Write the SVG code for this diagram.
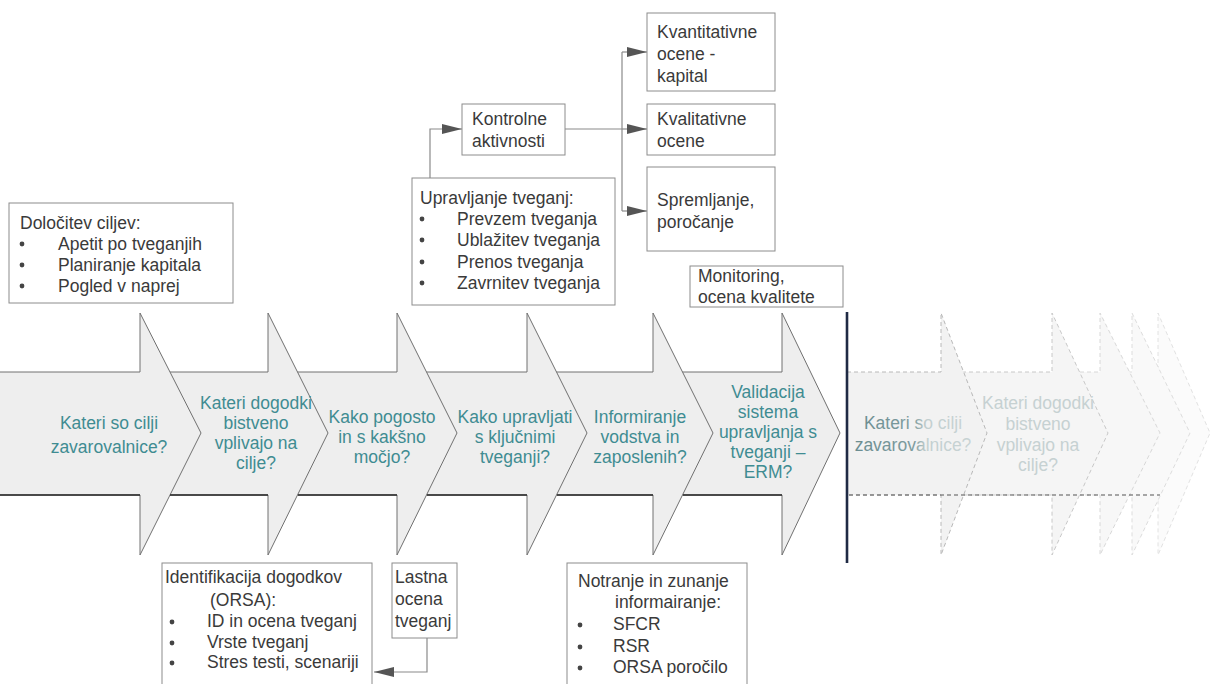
<svg xmlns="http://www.w3.org/2000/svg" width="1210" height="684" viewBox="0 0 1210 684">
<style>
.box{fill:#ffffff;stroke:#8c8c8c;stroke-width:1}
.bt{font-family:"Liberation Sans",Arial,sans-serif;font-size:17.5px;fill:#3a3a3a}
.ct{font-family:"Liberation Sans",Arial,sans-serif;font-size:17.5px;fill:#3f8c92;text-anchor:middle}
.chev{fill:#eeeeee;stroke:#707070;stroke-width:1}
.dark{stroke:#262626;stroke-width:1.6}
.conn{fill:none;stroke:#8a8a8a;stroke-width:1.2}
.bul{fill:#444}
</style>
<defs>
<marker id="ah" viewBox="0 0 20 10" refX="20" refY="5" markerWidth="20" markerHeight="10" markerUnits="userSpaceOnUse" orient="auto">
<path d="M0,0 L20,5 L0,10 z" fill="#555555"/>
</marker>
<linearGradient id="fadeTxt" gradientUnits="userSpaceOnUse" x1="857" y1="0" x2="972" y2="0">
<stop offset="0" stop-color="#6b8d91"/>
<stop offset="0.5" stop-color="#7e9c9f"/>
<stop offset="0.6" stop-color="#c2cfd0"/>
<stop offset="1" stop-color="#c8d3d4"/>
</linearGradient>
</defs>

<!-- faded chevrons (right of divider) -->
<g id="faded">
<polygon points="1132,372 1158,372 1158,313 1210,433 1158,555 1158,495 1132,495" fill="#fbfbfb" stroke="#e2e2e2" stroke-dasharray="4 3"/>
<polygon points="1100,372 1132,372 1132,313 1190,433 1132,555 1132,495 1100,495" fill="#f9f9f9" stroke="#dddddd" stroke-dasharray="4 3"/>
<polygon points="1052,372 1100,372 1100,313 1160,433 1100,555 1100,495 1052,495" fill="#f7f7f7" stroke="#d8d8d8" stroke-dasharray="4 3"/>
<polygon points="941,372 1052,372 1052,313 1108,433 1052,555 1052,495 941,495" fill="#f5f5f5" stroke="#c8c8c8" stroke-dasharray="4 3"/>
<polygon points="847,372 941,372 941,313 987,433 941,555 941,495 847,495" fill="#f2f2f2" stroke="#b8b8b8" stroke-dasharray="4 3"/>
<line x1="849" y1="495" x2="1160" y2="495" stroke="#555" stroke-width="1.2" stroke-dasharray="4 3"/>
<text class="ct" x="913" y="429" style="fill:url(#fadeTxt)">Kateri so cilji</text>
<text class="ct" x="913" y="451" style="fill:url(#fadeTxt)">zavarovalnice?</text>
<text class="ct" x="1038" y="409" style="fill:#c6d1d2">Kateri dogodki</text>
<text class="ct" x="1038" y="430" style="fill:#c6d1d2">bistveno</text>
<text class="ct" x="1038" y="451" style="fill:#c6d1d2">vplivajo na</text>
<text class="ct" x="1038" y="471" style="fill:#c6d1d2">cilje?</text>
</g>

<!-- main chevrons, drawn right to left -->
<g id="chev6">
<polygon class="chev" points="653,372 782,372 782,313 840,433 782,555 782,495 653,495"/>
<text class="ct" x="768" y="398">Validacija</text>
<text class="ct" x="768" y="418">sistema</text>
<text class="ct" x="768" y="438">upravljanja s</text>
<text class="ct" x="768" y="458">tveganji –</text>
<text class="ct" x="768" y="478">ERM?</text>
</g>
<g id="chev5">
<polygon class="chev" points="527,372 653,372 653,313 713,433 653,555 653,495 527,495"/>
<text class="ct" x="640" y="423">Informiranje</text>
<text class="ct" x="640" y="443">vodstva in</text>
<text class="ct" x="640" y="463">zaposlenih?</text>
</g>
<g id="chev4">
<polygon class="chev" points="397,372 527,372 527,313 587,433 527,555 527,495 397,495"/>
<text class="ct" x="515" y="423">Kako upravljati</text>
<text class="ct" x="515" y="443">s ključnimi</text>
<text class="ct" x="515" y="463">tveganji?</text>
</g>
<g id="chev3">
<polygon class="chev" points="268,372 397,372 397,313 457,433 397,555 397,495 268,495"/>
<text class="ct" x="382" y="423">Kako pogosto</text>
<text class="ct" x="382" y="443">in s kakšno</text>
<text class="ct" x="382" y="463">močjo?</text>
</g>
<g id="chev2">
<polygon class="chev" points="140,372 268,372 268,313 328,433 268,555 268,495 140,495"/>
<text class="ct" x="256" y="409">Kateri dogodki</text>
<text class="ct" x="256" y="429">bistveno</text>
<text class="ct" x="256" y="449">vplivajo na</text>
<text class="ct" x="256" y="469">cilje?</text>
</g>
<g id="chev1">
<polygon class="chev" points="-2,372 140,372 140,313 201,433 140,555 140,495 -2,495"/>
<text class="ct" x="109" y="429">Kateri so cilji</text>
<text class="ct" x="109" y="453">zavarovalnice?</text>
</g>
<g id="band-shadow">
<line class="dark" x1="0" y1="495" x2="140" y2="495"/>
<line class="dark" x1="170" y1="495" x2="268" y2="495"/>
<line class="dark" x1="298" y1="495" x2="397" y2="495"/>
<line class="dark" x1="427" y1="495" x2="527" y2="495"/>
<line class="dark" x1="557" y1="495" x2="653" y2="495"/>
<line class="dark" x1="683" y1="495" x2="782" y2="495"/>
</g>

<line id="divider" x1="847" y1="312" x2="847" y2="563" stroke="#1f2a44" stroke-width="2.6"/>

<g id="connectors">
<path class="conn" d="M430,178 V129 H462" marker-end="url(#ah)"/>
<path class="conn" d="M565,129 H622"/>
<path class="conn" d="M622,52 V211"/>
<path class="conn" d="M622,52 H647" marker-end="url(#ah)"/>
<path class="conn" d="M622,129 H647" marker-end="url(#ah)"/>
<path class="conn" d="M622,211 H647" marker-end="url(#ah)"/>
<path class="conn" d="M427,638 V672 H374" marker-end="url(#ah)"/>
</g>

<g id="goals">
<rect class="box" x="9" y="203" width="224" height="100"/>
<text class="bt" x="20" y="229">Določitev ciljev:</text>
<circle class="bul" cx="22" cy="244" r="2.4"/>
<text class="bt" x="58" y="250">Apetit po tveganjih</text>
<circle class="bul" cx="22" cy="265" r="2.4"/>
<text class="bt" x="58" y="271">Planiranje kapitala</text>
<circle class="bul" cx="22" cy="286" r="2.4"/>
<text class="bt" x="58" y="292">Pogled v naprej</text>
</g>

<g id="upravljanje">
<rect class="box" x="412" y="178" width="203" height="127"/>
<text class="bt" x="420" y="204">Upravljanje tveganj:</text>
<circle class="bul" cx="422" cy="219" r="2.4"/>
<text class="bt" x="457" y="225">Prevzem tveganja</text>
<circle class="bul" cx="422" cy="240" r="2.4"/>
<text class="bt" x="457" y="246">Ublažitev tveganja</text>
<circle class="bul" cx="422" cy="262" r="2.4"/>
<text class="bt" x="457" y="268">Prenos tveganja</text>
<circle class="bul" cx="422" cy="283" r="2.4"/>
<text class="bt" x="457" y="289">Zavrnitev tveganja</text>
</g>

<g id="kontrolne">
<rect class="box" x="462" y="104" width="103" height="51"/>
<text class="bt" x="472" y="125">Kontrolne</text>
<text class="bt" x="472" y="147">aktivnosti</text>
</g>

<g id="kvantitativne">
<rect class="box" x="647" y="13" width="128" height="78"/>
<text class="bt" x="657" y="38">Kvantitativne</text>
<text class="bt" x="657" y="60">ocene -</text>
<text class="bt" x="657" y="82">kapital</text>
</g>

<g id="kvalitativne">
<rect class="box" x="647" y="104" width="128" height="51"/>
<text class="bt" x="657" y="125">Kvalitativne</text>
<text class="bt" x="657" y="147">ocene</text>
</g>

<g id="spremljanje">
<rect class="box" x="647" y="167" width="128" height="84"/>
<text class="bt" x="657" y="206">Spremljanje,</text>
<text class="bt" x="657" y="228">poročanje</text>
</g>

<g id="monitoring">
<rect class="box" x="690" y="266" width="153" height="41"/>
<text class="bt" x="698" y="282">Monitoring,</text>
<text class="bt" x="698" y="303">ocena kvalitete</text>
</g>

<g id="identifikacija">
<rect class="box" x="162" y="563" width="210" height="130"/>
<text class="bt" x="165" y="583">Identifikacija dogodkov</text>
<text class="bt" x="210" y="606">(ORSA):</text>
<circle class="bul" cx="172" cy="622" r="2.4"/>
<text class="bt" x="207" y="627">ID in ocena tveganj</text>
<circle class="bul" cx="172" cy="643" r="2.4"/>
<text class="bt" x="207" y="648">Vrste tveganj</text>
<circle class="bul" cx="172" cy="663" r="2.4"/>
<text class="bt" x="207" y="668">Stres testi, scenariji</text>
</g>

<g id="lastna">
<rect class="box" x="392" y="563" width="65" height="75"/>
<text class="bt" x="395" y="583">Lastna</text>
<text class="bt" x="395" y="605">ocena</text>
<text class="bt" x="395" y="627">tveganj</text>
</g>

<g id="notranje">
<rect class="box" x="567" y="563" width="180" height="130"/>
<text class="bt" x="578" y="587">Notranje in zunanje</text>
<text class="bt" x="615" y="608">informairanje:</text>
<circle class="bul" cx="580" cy="625" r="2.4"/>
<text class="bt" x="613" y="630">SFCR</text>
<circle class="bul" cx="580" cy="647" r="2.4"/>
<text class="bt" x="613" y="652">RSR</text>
<circle class="bul" cx="580" cy="668" r="2.4"/>
<text class="bt" x="613" y="673">ORSA poročilo</text>
</g>
</svg>
